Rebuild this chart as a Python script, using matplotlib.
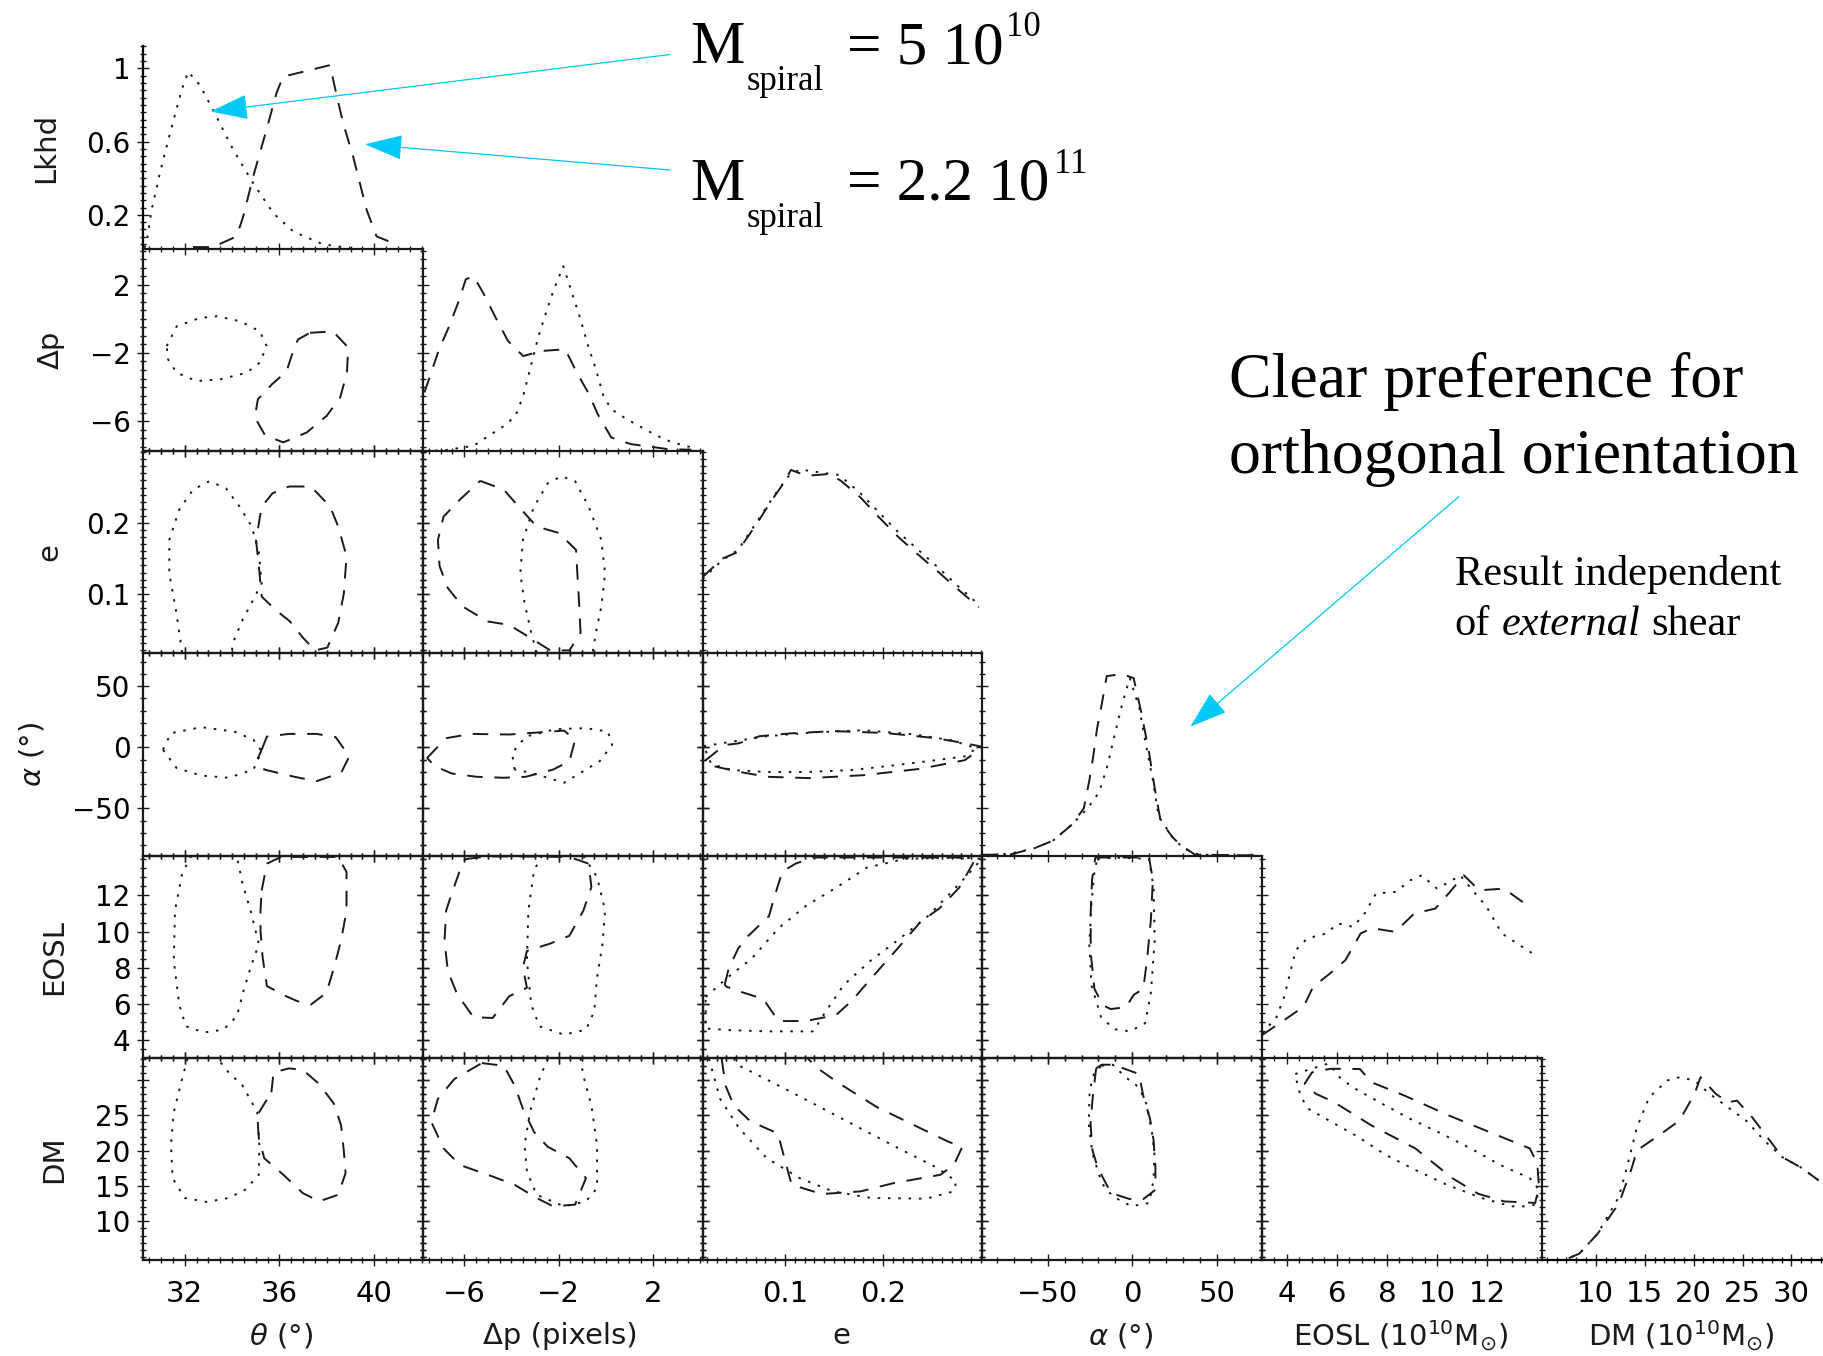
import matplotlib.pyplot as plt
from matplotlib.ticker import FixedLocator, FixedFormatter, MultipleLocator
from matplotlib.patches import FancyArrowPatch

W, H = 1823, 1356
INK = '#1a1a1a'
CYAN = '#00c8f8'
DOT = (0, (1.3, 4.0))     # M_spiral = 5 10^10
DASH = (0, (8, 6))        # M_spiral = 2.2 10^11

plt.rcParams['font.family'] = 'DejaVu Sans'
plt.rcParams['mathtext.fontset'] = 'dejavusans'

# axis setup per parameter: theta, dp, e, alpha, EOSL, DM
lims = [(30.24, 42.05), (-7.75, 4.1), (0.0158, 0.3015), (-88.7, 76.9), (3.02, 14.19), (4.5, 33.1)]
lkhd_lim = (0.0145, 1.12)
major = [[32, 36, 40], [-6, -2, 2], [0.1, 0.2], [-50, 0, 50], [4, 6, 8, 10, 12], [10, 15, 20, 25, 30]]
xlabels = [['32', '36', '40'], ['−6', '−2', '2'], ['0.1', '0.2'], ['−50', '0', '50'],
           ['4', '6', '8', '10', '12'], ['10', '15', '20', '25', '30']]
ylabels = [None, ['−6', '−2', '2'], ['0.1', '0.2'], ['−50', '0', '50'],
           ['4', '6', '8', '10', '12'], ['10', '15', '20', '25', '']]
minor = [0.5, 0.5, 0.01, 10, 0.5, 1]
xnames = [r'$\theta$ (°)', 'Δp (pixels)', 'e', r'$\alpha$ (°)',
          r'EOSL (10$^{10}$M$_{\odot}$)', r'DM (10$^{10}$M$_{\odot}$)']
ynames = ['Lkhd', 'Δp', 'e', r'$\alpha$ (°)', 'EOSL', 'DM']

# ---- 1D likelihoods (x, Lkhd) ----
lk_theta_lo = ([30.3, 30.39, 30.60, 30.95, 31.38, 31.87, 32.15, 32.64, 33.20, 34.05, 34.89, 35.74, 36.58, 37.71, 38.26, 39.0],
               [0.02, 0.046, 0.227, 0.427, 0.646, 0.882, 0.982, 0.909, 0.773, 0.555, 0.373, 0.209, 0.109, 0.046, 0.03, 0.02])
lk_theta_hi = ([32.35, 33.19, 34.19, 34.47, 34.89, 35.45, 35.87, 36.15, 37.28, 38.13, 38.41, 38.69, 39.11, 39.68, 40.10, 40.80],
               [0.024, 0.024, 0.082, 0.191, 0.409, 0.664, 0.864, 0.955, 0.991, 1.018, 0.855, 0.70, 0.518, 0.227, 0.082, 0.046])
lk_dp_lo = ([-7.67, -6.78, -5.60, -4.96, -4.31, -3.82, -3.50, -3.17, -2.85, -2.53, -2.20, -1.80, -1.39, -1.07, -0.75, -0.42,
             -0.10, 0.23, 0.87, 1.52, 2.17, 2.82, 3.63],
            [0.015, 0.02, 0.043, 0.098, 0.152, 0.207, 0.316, 0.48, 0.643, 0.771, 0.898, 1.025, 0.862, 0.735, 0.589, 0.462,
             0.316, 0.244, 0.19, 0.144, 0.098, 0.062, 0.035])
lk_dp_hi = ([-7.68, -7.06, -6.66, -6.25, -5.93, -5.60, -5.12, -4.63, -4.14, -3.50, -2.69, -1.72, -1.23, -0.75, -0.34, 0.23,
             1.04, 2.66, 3.63],
            [0.335, 0.571, 0.689, 0.826, 0.953, 0.971, 0.862, 0.735, 0.616, 0.534, 0.562, 0.571, 0.444, 0.335, 0.216, 0.089,
             0.053, 0.025, 0.022])
lk_e_lo = ([0.0157, 0.035, 0.052, 0.072, 0.088, 0.103, 0.115, 0.14, 0.155, 0.175, 0.195, 0.215, 0.235, 0.255, 0.275, 0.298],
           [0.42, 0.52, 0.58, 0.74, 0.87, 0.98, 1.02, 1.0, 0.99, 0.90, 0.79, 0.68, 0.585, 0.49, 0.39, 0.28])
lk_e_hi = ([0.0157, 0.0355, 0.051, 0.071, 0.086, 0.098, 0.106, 0.122, 0.145, 0.157, 0.177, 0.196, 0.216, 0.235, 0.255, 0.274, 0.298],
           [0.431, 0.531, 0.567, 0.722, 0.849, 0.94, 1.017, 0.985, 0.995, 0.958, 0.867, 0.758, 0.649, 0.558, 0.467, 0.376, 0.267])
lk_a_lo = ([-88.5, -72.8, -58.3, -46.9, -35.6, -26.5, -19.7, -15.1, -10.6, -6.0, -1.5, 4.2, 7.6, 12.2, 15.6, 23.5, 30.3, 39.4, 73.5],
           [0.017, 0.025, 0.054, 0.097, 0.185, 0.273, 0.36, 0.492, 0.667, 0.842, 0.985, 0.82, 0.645, 0.426, 0.229, 0.119, 0.054, 0.02, 0.016])
lk_a_hi = ([-88.5, -72.8, -58.3, -46.9, -35.6, -28.7, -25.4, -23.1, -20.8, -18.5, -15.1, -6.0, 0.8, 5.3, 9.9, 13.3, 16.7, 23.5,
            28.1, 37.2, 73.5],
           [0.02, 0.02, 0.054, 0.097, 0.185, 0.273, 0.426, 0.557, 0.711, 0.82, 0.996, 1.007, 0.985, 0.798, 0.58, 0.382, 0.207, 0.119,
            0.076, 0.02, 0.016])
lk_eosl_lo = ([3.02, 3.60, 3.90, 4.13, 4.36, 4.82, 5.58, 6.04, 6.65, 7.11, 7.56, 8.33, 8.94, 9.39, 10.0, 10.61, 10.92, 11.53,
               11.98, 12.59, 13.2, 13.81],
              [0.149, 0.24, 0.35, 0.477, 0.604, 0.668, 0.695, 0.75, 0.731, 0.804, 0.913, 0.922, 0.986, 1.013, 0.94, 0.986, 1.013,
               0.913, 0.84, 0.695, 0.64, 0.586])
lk_eosl_hi = ([3.02, 3.90, 4.67, 5.05, 5.73, 6.34, 6.95, 7.40, 8.33, 9.09, 9.93, 10.46, 11.07, 11.68, 12.67, 13.51],
              [0.14, 0.222, 0.294, 0.403, 0.477, 0.549, 0.695, 0.724, 0.704, 0.804, 0.831, 0.913, 1.013, 0.931, 0.94, 0.858])
lk_dm_lo = ([4.5, 6.72, 8.32, 10.19, 12.35, 13.27, 14.21, 15.45, 17.30, 18.55, 20.09, 21.64, 23.50, 25.36, 27.22, 29.07, 30.93, 33.0],
            [0.0145, 0.0145, 0.051, 0.16, 0.36, 0.542, 0.742, 0.905, 0.997, 1.015, 0.997, 0.924, 0.851, 0.778, 0.669, 0.578, 0.523, 0.442])
lk_dm_hi = ([4.5, 6.72, 8.32, 10.19, 12.35, 13.59, 14.21, 16.68, 18.55, 20.09, 20.71, 22.27, 23.50, 24.43, 25.98, 27.53, 29.07,
             30.93, 32.78],
            [0.0145, 0.0145, 0.051, 0.16, 0.324, 0.505, 0.615, 0.706, 0.778, 0.924, 1.015, 0.924, 0.878, 0.887, 0.796, 0.687, 0.578,
             0.523, 0.451])

# ---- 2D confidence contours (column parameter, row parameter) ----
c_dp_theta_lo = ([31.24, 31.66, 32.64, 33.35, 34.33, 35.17, 35.46, 35.17, 34.61, 33.49, 32.50, 31.66, 31.30],
                 [-1.60, -0.44, 0.05, 0.15, -0.14, -0.73, -1.60, -2.57, -3.16, -3.55, -3.65, -3.16, -2.38])
c_dp_theta_hi = ([37.29, 38.26, 38.90, 38.85, 38.56, 37.99, 37.15, 36.16, 35.39, 34.96, 35.09, 35.68, 36.30, 36.53, 36.78],
                 [-0.82, -0.74, -1.68, -3.16, -4.62, -5.69, -6.66, -7.24, -6.82, -5.77, -4.71, -3.84, -3.08, -2.09, -1.21])
c_e_theta_lo = ([31.89, 31.65, 31.35, 31.35, 31.77, 32.35, 33.04, 33.74, 34.32, 34.83, 35.13, 35.25, 34.90, 34.44, 34.09, 33.97],
                [0.017, 0.073, 0.129, 0.176, 0.219, 0.247, 0.259, 0.249, 0.223, 0.195, 0.158, 0.115, 0.092, 0.063, 0.035, 0.017])
c_e_theta_hi = ([36.40, 37.33, 38.14, 38.48, 38.83, 38.72, 38.48, 38.02, 37.50, 36.99, 36.44, 35.81, 35.25, 35.13, 35.01, 35.25, 35.71],
                [0.2515, 0.2515, 0.223, 0.195, 0.153, 0.101, 0.059, 0.024, 0.020, 0.038, 0.061, 0.078, 0.096, 0.139, 0.176, 0.223, 0.242])
c_e_dp_lo = ([-2.93, -3.16, -3.44, -3.62, -3.51, -3.04, -2.46, -1.88, -1.30, -0.72, -0.19, -0.03, -0.19, -0.42, -0.56],
             [0.017, 0.045, 0.087, 0.129, 0.176, 0.223, 0.256, 0.266, 0.259, 0.223, 0.176, 0.129, 0.082, 0.045, 0.017])
c_e_dp_hi = ([-5.32, -4.32, -3.58, -2.93, -2.0, -1.26, -1.19, -1.12, -1.07, -1.54, -2.35, -3.16, -4.09, -5.02, -6.06, -6.69,
              -7.04, -7.11, -6.87, -6.18],
             [0.2595, 0.247, 0.219, 0.195, 0.186, 0.162, 0.120, 0.082, 0.045, 0.020, 0.020, 0.037, 0.056, 0.061, 0.082, 0.108,
              0.139, 0.176, 0.209, 0.233])
c_a_theta_lo = ([31.08, 31.42, 32.70, 34.09, 34.90, 35.25, 34.90, 33.85, 32.70, 31.65],
                [-1.9, 11.6, 16.5, 12.9, 6.2, -3.3, -18.2, -24.9, -23.1, -16.8])
c_a_theta_hi = ([35.25, 35.47, 36.40, 37.56, 38.37, 38.95, 38.60, 37.56, 36.63, 35.36, 35.06],
                [-1.9, 8.8, 11.0, 11.0, 8.4, -7.4, -20.9, -27.7, -24.1, -18.2, -10.1])
c_a_dp_lo = ([-3.86, -3.97, -3.39, -2.12, -0.84, 0.09, 0.27, -0.26, -1.07, -1.77, -2.46, -3.16],
             [-18.2, -4.6, 8.8, 14.9, 15.7, 12.9, 2.1, -11.4, -20.9, -29.0, -24.9, -20.9])
c_a_dp_hi = ([-7.57, -6.76, -5.71, -4.09, -2.93, -1.77, -1.30, -1.54, -2.23, -3.39, -4.32, -5.48, -6.53, -7.23],
             [-8.7, 7.5, 11.0, 10.5, 12.1, 13.7, 6.2, -11.4, -18.2, -24.1, -24.9, -24.1, -21.4, -15.5])
c_a_e_lo = ([0.0169, 0.0424, 0.0816, 0.129, 0.180, 0.231, 0.270, 0.295, 0.2855, 0.254, 0.215, 0.168, 0.121, 0.0816, 0.0463, 0.0247],
            [1.0, 4.2, 9.1, 12.3, 14.0, 10.7, 5.8, -0.6, -7.2, -10.5, -14.4, -18.6, -20.2, -20.2, -18.6, -13.7])
c_a_e_hi = ([0.0189, 0.0384, 0.0522, 0.0738, 0.105, 0.150, 0.203, 0.254, 0.285, 0.302, 0.2835, 0.238, 0.180, 0.125, 0.0816,
             0.050, 0.0267],
            [-10.5, 1.9, 3.2, 9.1, 11.4, 13.3, 11.7, 7.5, 3.2, 0.3, -10.5, -17.6, -22.8, -25.2, -24.1, -19.6, -15.3])
c_eosl_theta_lo = ([32.28, 31.89, 31.59, 31.54, 31.77, 32.05, 32.81, 33.63, 34.20, 34.48, 34.78, 35.13, 34.78, 34.44, 34.20],
                   [14.19, 13.19, 11.16, 8.38, 5.97, 4.77, 4.43, 4.58, 5.32, 6.71, 8.01, 9.31, 11.16, 12.64, 14.19])
c_eosl_theta_hi = ([35.25, 35.47, 36.06, 38.48, 38.83, 38.83, 38.60, 38.26, 37.98, 37.33, 36.75, 36.28, 35.47, 35.29, 35.20, 35.20],
                   [12.27, 13.75, 14.12, 14.12, 13.29, 11.16, 9.49, 7.82, 6.62, 5.97, 6.16, 6.43, 6.99, 8.57, 10.04, 11.16])
c_eosl_dp_lo = ([-2.70, -3.04, -3.28, -3.34, -3.16, -2.81, -1.77, -0.84, -0.49, -0.37, -0.14, -0.03, -0.37, -0.95],
                [14.19, 13.38, 11.16, 8.38, 5.97, 4.77, 4.31, 4.58, 5.6, 7.46, 9.31, 11.16, 13.01, 14.19])
c_eosl_dp_hi = ([-5.95, -5.02, -3.39, -1.54, -0.73, -0.61, -0.95, -1.54, -2.35, -3.34, -3.51, -3.34, -4.09, -4.79, -5.60,
                 -6.29, -6.69, -6.83, -6.76, -6.53, -6.18],
                [14.0, 14.15, 14.15, 14.12, 13.75, 12.46, 11.16, 9.77, 9.34, 8.93, 8.01, 6.90, 6.43, 5.23, 5.27, 6.53, 7.82,
                 9.49, 11.16, 12.08, 13.38])
c_eosl_e_lo = ([0.0189, 0.0424, 0.0659, 0.0933, 0.121, 0.152, 0.1835, 0.223, 0.278, 0.301, 0.2855, 0.270, 0.246, 0.215,
                0.1875, 0.160, 0.1405, 0.1287, 0.0816, 0.0424, 0.0189],
               [6.39, 7.51, 8.51, 10.18, 11.41, 12.42, 13.53, 14.02, 14.09, 14.02, 13.08, 12.19, 10.86, 9.52, 8.40, 7.06, 5.5,
                4.49, 4.49, 4.56, 4.65])
c_eosl_e_hi = ([0.0384, 0.0424, 0.0522, 0.062, 0.0836, 0.0894, 0.0972, 0.111, 0.1287, 0.2777, 0.293, 0.2777, 0.258, 0.238,
                0.215, 0.1875, 0.168, 0.152, 0.121, 0.0933, 0.0777, 0.058, 0.0405],
               [7.06, 7.96, 9.07, 9.74, 10.86, 11.97, 13.31, 13.76, 14.09, 14.09, 13.87, 12.42, 11.3, 10.52, 9.07, 7.39, 6.17,
                5.39, 5.06, 5.06, 6.28, 6.62, 6.95])
c_eosl_a_lo = ([-20.8, -11.7, 9.9, 12.6, 13.3, 11.0, 7.6, -1.5, -10.6, -18.5, -24.2, -25.4, -24.2, -22.4],
               [13.98, 14.09, 14.02, 12.42, 9.52, 6.62, 4.94, 4.49, 4.61, 5.28, 7.06, 9.29, 11.52, 13.31])
c_eosl_a_hi = ([-21.9, 9.9, 12.2, 11.0, 8.7, 6.5, 0.8, -3.7, -12.8, -17.4, -22.4, -24.6, -24.6, -23.8],
               [14.09, 14.09, 12.86, 10.63, 8.40, 6.84, 6.50, 5.83, 5.72, 5.94, 6.84, 8.84, 11.08, 12.86])
c_dm_theta_lo = ([32.12, 31.89, 31.54, 31.42, 31.49, 32.0, 32.93, 33.85, 34.55, 35.13, 35.15, 35.06, 34.44, 33.85, 33.39],
                 [33.0, 30.14, 25.46, 20.79, 16.11, 13.31, 12.75, 13.31, 14.47, 16.58, 20.79, 25.46, 29.2, 31.07, 33.0])
c_dm_theta_hi = ([35.66, 35.75, 36.40, 36.98, 37.67, 38.30, 38.60, 38.72, 38.79, 38.48, 37.67, 36.98, 36.17, 35.36, 35.13, 35.06],
                 [28.26, 31.07, 31.63, 31.44, 29.44, 26.63, 23.59, 19.85, 16.82, 13.77, 12.83, 14.01, 16.58, 18.92, 21.73, 24.99])
c_dm_dp_lo = ([-2.46, -2.81, -3.21, -3.44, -3.34, -2.93, -1.77, -0.84, -0.37, -0.37, -0.61, -0.95, -1.07],
              [33.0, 30.14, 25.46, 20.79, 17.05, 13.77, 12.13, 12.83, 14.71, 20.79, 26.4, 30.61, 33.0])
c_dm_dp_hi = ([-5.25, -4.32, -3.86, -3.51, -3.04, -2.46, -1.54, -0.84, -1.30, -2.23, -2.93, -3.86, -4.79, -6.18, -6.87,
               -7.39, -7.11, -6.41],
              [32.38, 32.0, 29.2, 25.93, 22.65, 20.55, 18.92, 16.11, 12.37, 12.13, 13.31, 15.17, 16.34, 17.98, 20.32, 24.05,
               27.34, 30.14])
c_dm_e_lo = ([0.0223, 0.0336, 0.0533, 0.0814, 0.115, 0.149, 0.188, 0.244, 0.272, 0.275, 0.256, 0.216, 0.171, 0.126, 0.087,
              0.0533, 0.0476],
             [33.0, 27.34, 23.13, 18.92, 16.11, 14.24, 13.31, 13.21, 14.24, 15.64, 17.52, 20.32, 23.59, 26.86, 29.66, 32.0, 33.0])
c_dm_e_hi = ([0.0353, 0.0392, 0.0476, 0.0646, 0.0926, 0.0994, 0.1067, 0.1376, 0.177, 0.2107, 0.2584, 0.2724, 0.281, 0.267,
              0.2388, 0.1938, 0.1544, 0.1344, 0.1233],
             [33.0, 29.2, 26.4, 24.15, 22.43, 18.92, 15.18, 13.87, 14.24, 15.41, 16.58, 17.98, 20.55, 21.25, 23.13, 26.16,
              29.58, 31.54, 33.0])
c_dm_a_lo = ([-18.1, -11.5, -3.9, 3.9, 8.3, 11.5, 13.1, 12.6, 10.0, -0.5, -11.5, -18.1, -23.6, -25.8, -25.2, -22.5],
             [32.0, 32.15, 30.37, 28.96, 26.63, 22.89, 19.62, 15.88, 12.61, 12.13, 13.53, 15.41, 19.62, 23.83, 28.5, 31.07])
c_dm_a_hi = ([-21.4, -18.1, -11.1, 3.9, 6.7, 10.5, 12.6, 13.7, 13.7, 6.1, -1.7, -12.6, -20.3, -23.6, -24.7, -23.6],
             [31.63, 32.15, 32.15, 30.84, 27.56, 24.53, 21.49, 17.74, 14.47, 13.07, 13.17, 14.01, 17.52, 20.08, 23.83, 27.1])
c_dm_eosl_lo = ([4.34, 5.67, 6.11, 6.63, 7.81, 8.91, 10.16, 11.34, 12.52, 13.70, 14.07, 13.92, 13.55, 12.96, 11.78, 10.39,
                 9.13, 7.96, 6.85, 5.67, 4.86, 4.57, 4.42],
                [30.84, 32.33, 30.37, 28.96, 26.63, 24.53, 22.43, 20.32, 17.98, 16.11, 14.47, 12.37, 12.13, 12.13, 13.31, 15.18,
                 17.28, 19.38, 21.95, 24.29, 25.93, 27.56, 29.44])
c_dm_eosl_hi = ([4.71, 5.01, 5.75, 6.92, 7.39, 8.69, 10.46, 12.23, 13.70, 14.0, 14.07, 13.92, 12.67, 11.64, 10.61, 9.13,
                 7.37, 5.89, 5.16],
                [29.44, 31.07, 31.58, 31.54, 29.66, 27.8, 24.99, 22.43, 20.32, 18.22, 14.94, 12.61, 12.83, 13.91, 16.11, 20.32,
                 23.59, 26.86, 28.04])

diag = [(lk_theta_lo, lk_theta_hi), (lk_dp_lo, lk_dp_hi), (lk_e_lo, lk_e_hi),
        (lk_a_lo, lk_a_hi), (lk_eosl_lo, lk_eosl_hi), (lk_dm_lo, lk_dm_hi)]
# (row, col): (dotted curve, closed?, dashed curve, closed?)
lower = {
    (1, 0): (c_dp_theta_lo, True, c_dp_theta_hi, True),
    (2, 0): (c_e_theta_lo, False, c_e_theta_hi, True),
    (2, 1): (c_e_dp_lo, False, c_e_dp_hi, True),
    (3, 0): (c_a_theta_lo, True, c_a_theta_hi, True),
    (3, 1): (c_a_dp_lo, True, c_a_dp_hi, True),
    (3, 2): (c_a_e_lo, True, c_a_e_hi, True),
    (4, 0): (c_eosl_theta_lo, False, c_eosl_theta_hi, True),
    (4, 1): (c_eosl_dp_lo, False, c_eosl_dp_hi, True),
    (4, 2): (c_eosl_e_lo, True, c_eosl_e_hi, True),
    (4, 3): (c_eosl_a_lo, True, c_eosl_a_hi, True),
    (5, 0): (c_dm_theta_lo, False, c_dm_theta_hi, True),
    (5, 1): (c_dm_dp_lo, False, c_dm_dp_hi, True),
    (5, 2): (c_dm_e_lo, False, c_dm_e_hi, False),
    (5, 3): (c_dm_a_lo, True, c_dm_a_hi, True),
    (5, 4): (c_dm_eosl_lo, True, c_dm_eosl_hi, True),
}

fig = plt.figure(figsize=(W / 100, H / 100), dpi=100)

X0, Y0, CW, RH = 143.0, 46.5, 279.8, 202.3


def make_axes(r, c):
    return fig.add_axes([(X0 + c * CW) / W, 1 - (Y0 + (r + 1) * RH) / H, CW / W, RH / H])


def curve(ax, data, style, closed=False):
    xs, ys = list(data[0]), list(data[1])
    if closed:
        xs.append(xs[0])
        ys.append(ys[0])
    ax.plot(xs, ys, color=INK, lw=1.4, linestyle=style, dash_capstyle='butt')


def ticks(ax, r, c):
    ax.xaxis.set_major_locator(FixedLocator(major[c]))
    ax.xaxis.set_minor_locator(MultipleLocator(minor[c]))
    ax.xaxis.set_major_formatter(FixedFormatter(xlabels[c]))
    ax.tick_params(which='both', direction='inout', color=INK, width=1.0)
    ax.tick_params(which='major', length=8)
    ax.tick_params(which='minor', length=4)
    ax.tick_params(axis='x', labelsize=21, pad=10)
    ax.tick_params(axis='y', labelsize=20, pad=5)


for r in range(6):
    for c in range(r + 1):
        ax = make_axes(r, c)
        ax.set_xlim(*lims[c])
        if r == c:
            lo, hi = diag[r]
            ax.set_ylim(*lkhd_lim)
            curve(ax, lo, DOT)
            curve(ax, hi, DASH)
            for s in ax.spines.values():
                s.set_visible(False)
            ticks(ax, r, c)
            ax.tick_params(which='both', bottom=False, top=False, left=False, right=False,
                           labelbottom=False, labelleft=False)
            if r == 0:
                ax.spines['left'].set_visible(True)
                ax.spines['left'].set_linewidth(1.6)
                ax.yaxis.set_major_locator(FixedLocator([0.2, 0.6, 1.0]))
                ax.yaxis.set_minor_locator(MultipleLocator(0.04))
                ax.yaxis.set_major_formatter(FixedFormatter(['0.2', '0.6', '1']))
                ax.tick_params(which='both', left=True, labelleft=True)
            if r == 5:
                ax.spines['bottom'].set_visible(True)
                ax.spines['bottom'].set_linewidth(1.6)
                ax.tick_params(which='both', bottom=True, labelbottom=True)
        else:
            lo, lo_closed, hi, hi_closed = lower[(r, c)]
            ax.set_ylim(*lims[r])
            curve(ax, lo, DOT, lo_closed)
            curve(ax, hi, DASH, hi_closed)
            for s in ax.spines.values():
                s.set_linewidth(1.6)
                s.set_color(INK)
            ticks(ax, r, c)
            ax.yaxis.set_major_locator(FixedLocator(major[r]))
            ax.yaxis.set_minor_locator(MultipleLocator(minor[r]))
            ax.yaxis.set_major_formatter(FixedFormatter(ylabels[r]))
            ax.tick_params(which='both', top=True, right=True,
                           labelbottom=(r == 5), labelleft=(c == 0))
        ax.patch.set_alpha(0)

# overlay in pixel coordinates for labels and annotations
ov = fig.add_axes([0, 0, 1, 1], zorder=10)
ov.set_xlim(0, W)
ov.set_ylim(H, 0)
ov.axis('off')
ov.patch.set_alpha(0)

xlab_x = [281, 560, 841, 1121, 1400, 1681]
for name, x in zip(xnames, xlab_x):
    ov.text(x, 1336, name, fontsize=21, ha='center', va='center', color=INK)
ylab_x = [46.5, 51, 49, 32.5, 54.6, 54.6]
for r, (name, x) in enumerate(zip(ynames, ylab_x)):
    ov.text(x, Y0 + (r + 0.5) * RH, name, fontsize=21, rotation=90, ha='center', va='center', color=INK)

serif = 'Liberation Serif'
for yb, val, sup, supx in [(63.3, '= 5 10', '10', 1006), (200, '= 2.2 10', '11', 1054)]:
    ov.text(690, yb, 'M', fontsize=44, family=serif, va='baseline')
    ov.text(746.7, yb + 26.7, 'spiral', fontsize=25, family=serif, va='baseline')
    ov.text(846.7, yb, val, fontsize=44, family=serif, va='baseline')
    ov.text(supx, yb - 27, sup, fontsize=25, family=serif, va='baseline')

ov.text(1229, 396.7, 'Clear preference for', fontsize=46, family=serif, va='baseline')
ov.text(1229, 473.3, 'orthogonal orientation', fontsize=46, family=serif, va='baseline')
ov.text(1454.7, 585, 'Result independent', fontsize=30.5, family=serif, va='baseline')
ov.text(1454.7, 635, 'of', fontsize=30.5, family=serif, va='baseline')
ov.text(1501.9, 635, 'external', fontsize=30.5, family=serif, style='italic', va='baseline')
ov.text(1651.5, 635, 'shear', fontsize=30.5, family=serif, va='baseline')

for start, tip in [((670, 54.5), (210.5, 111.5)), ((670, 170), (365, 144.3)), ((1458.8, 496.7), (1190.3, 726.7))]:
    ov.add_patch(FancyArrowPatch(start, tip, arrowstyle='-|>,head_length=24,head_width=8',
                                 mutation_scale=1, color=CYAN, lw=0.9, shrinkA=0, shrinkB=0))

fig.savefig('out.png', dpi=100)
